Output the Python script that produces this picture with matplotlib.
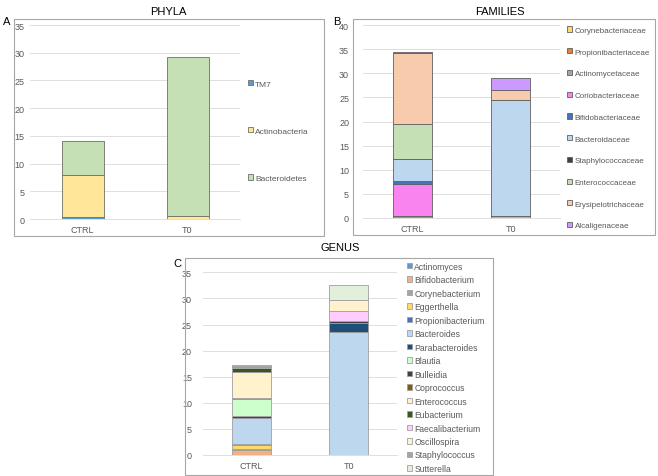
import matplotlib
matplotlib.use('Agg')
import matplotlib.pyplot as plt
import numpy as np
from matplotlib.patches import Rectangle

plt.rcParams['font.family'] = ['Liberation Sans', 'DejaVu Sans']

samples = ['CTRL', 'T0']

# Panel A - phyla
phyla = ['TM7', 'Actinobacteria', 'Bacteroidetes']
phyla_ctrl = [0.4, 7.6, 6.0]
phyla_t0 = [0.0, 0.5, 28.7]
phyla_colors = ['#5B9BD5', '#FFE699', '#C5E0B4']

# Panel B - families
families = ['Corynebacteriaceae', 'Propionibacteriaceae', 'Actinomycetaceae',
            'Coriobacteriaceae', 'Bifidobacteriaceae', 'Bacteroidaceae',
            'Staphylococcaceae', 'Enterococcaceae', 'Erysipelotrichaceae',
            'Alcaligenaceae']
families_ctrl = [0.05, 0.3, 0.05, 6.6, 0.7, 4.5, 0.1, 7.2, 14.8, 0.15]
families_t0 = [0.0, 0.0, 0.0, 0.35, 0.0, 24.1, 0.1, 0.0, 2.0, 2.5]
families_colors = ['#FFD966', '#ED7D31', '#A5A5A5', '#F984EF', '#4472C4',
                   '#BDD7EE', '#404040', '#C5E0B4', '#F8CBAD', '#CC99FF']

# Panel C - genus
genera = ['Actinomyces', 'Bifidobacterium', 'Corynebacterium', 'Eggerthella',
          'Propionibacterium', 'Bacteroides', 'Parabacteroides', 'Blautia',
          'Bulleidia', 'Coprococcus', 'Enterococcus', 'Eubacterium',
          'Faecalibacterium', 'Oscillospira', 'Staphylococcus', 'Sutterella']
genera_ctrl = [0.05, 0.9, 0.2, 0.8, 0.2, 4.9, 0.4, 3.2,
               0.05, 0.3, 4.9, 0.7, 0.1, 0.1, 0.2, 0.2]
genera_t0 = [0.0, 0.0, 0.0, 0.0, 0.0, 23.6, 1.7, 0.0,
             0.3, 0.0, 0.0, 0.0, 1.9, 2.2, 0.0, 2.8]
genera_colors = ['#5B9BD5', '#F4B183', '#A5A5A5', '#FFD966', '#4472C4',
                 '#BDD7EE', '#1F4E79', '#CCFFCC', '#404040', '#7F6000',
                 '#FFF2CC', '#375623', '#FFCCFF', '#FFF2CC', '#A5A5A5',
                 '#E2EFDA']

W, H = 658, 477
fig = plt.figure(figsize=(W / 100, H / 100), dpi=100)


def px_axes(x0, y0, x1, y1):
    # pixel box (top-left origin) -> axes
    return fig.add_axes([x0 / W, 1 - y1 / H, (x1 - x0) / W, (y1 - y0) / H])


def frame(x0, y0, x1, y1):
    fig.add_artist(Rectangle((x0 / W, 1 - y1 / H), (x1 - x0) / W, (y1 - y0) / H,
                             transform=fig.transFigure, fill=False,
                             edgecolor='#A6A6A6', linewidth=0.8))


def stacked(ax, names, ctrl, t0, colors, ymax, edge, pad):
    x = np.arange(len(samples))
    bottom = np.zeros(len(samples))
    for name, a, b, c in zip(names, ctrl, t0, colors):
        vals = np.array([a, b])
        ax.bar(x, vals, 0.4, bottom=bottom, color=c, edgecolor=edge,
               linewidth=0.6, label=name, zorder=3)
        bottom += vals
    ax.set_xlim(-0.5, 1.5)
    ax.set_ylim(0, ymax)
    ax.set_yticks(np.arange(0, ymax + 1, 5))
    ax.set_xticks(x)
    ax.set_xticklabels(samples)
    ax.grid(axis='y', color='#D9D9D9', linewidth=0.6, zorder=0)
    for s in ['top', 'right', 'left']:
        ax.spines[s].set_visible(False)
    ax.spines['bottom'].set_color('#D9D9D9')
    ax.spines['bottom'].set_linewidth(0.6)
    ax.tick_params(axis='y', length=0, labelsize=6.5, colors='#595959', pad=pad)
    ax.tick_params(axis='x', length=0, labelsize=6.5, colors='#595959', pad=4)


# Panel A
frame(14, 20, 324, 237)
axA = px_axes(30, 26, 240, 220)
stacked(axA, phyla, phyla_ctrl, phyla_t0, phyla_colors, 35, '#707060', 4)
axA.legend(loc='upper left', bbox_to_anchor=(1.0, 0.755), frameon=False,
           fontsize=6, labelspacing=4.75, handlelength=0.6, handleheight=0.6,
           handletextpad=0.3, labelcolor='#595959')
fig.text(168 / W, 1 - 12 / H, 'PHYLA', ha='center', va='center', fontsize=8)
fig.text(3 / W, 1 - 22 / H, 'A', ha='left', va='center', fontsize=8)

# Panel B
frame(353, 20, 655, 236)
axB = px_axes(363, 26, 560, 219)
stacked(axB, families, families_ctrl, families_t0, families_colors, 40, '#606060', 10)
axB.legend(loc='upper left', bbox_to_anchor=(1.0, 1.03), frameon=False,
           fontsize=5.8, labelspacing=1.78, handlelength=0.6, handleheight=0.6,
           handletextpad=0.3, labelcolor='#595959')
fig.text(500 / W, 1 - 12 / H, 'FAMILIES', ha='center', va='center', fontsize=8)
fig.text(333 / W, 1 - 22 / H, 'B', ha='left', va='center', fontsize=8)

# Panel C
frame(185, 259, 493, 476)
axC = px_axes(203, 273.3, 397, 456)
stacked(axC, genera, genera_ctrl, genera_t0, genera_colors, 35, '#A0A0A0', 8)
axC.legend(loc='upper left', bbox_to_anchor=(1.01, 1.10), frameon=False,
           fontsize=6.2, labelspacing=0.52, handlelength=0.6, handleheight=0.6,
           handletextpad=0.3, labelcolor='#595959')
fig.text(340 / W, 1 - 248 / H, 'GENUS', ha='center', va='center', fontsize=8)
fig.text(173 / W, 1 - 264 / H, 'C', ha='left', va='center', fontsize=8)

fig.savefig('out.png', dpi=100)
